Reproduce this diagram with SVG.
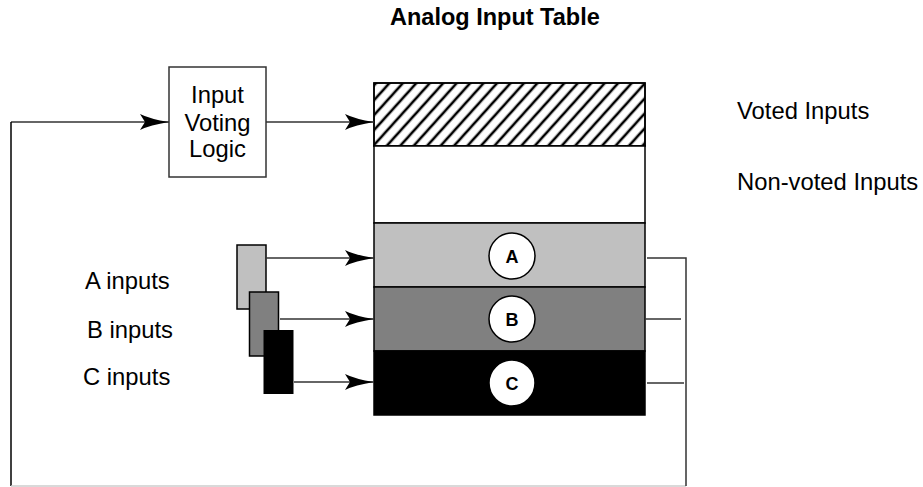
<svg xmlns="http://www.w3.org/2000/svg" width="923" height="487" viewBox="0 0 923 487">
<style>
text{font-family:"Liberation Sans",Arial,sans-serif;fill:#000}
.lbl{font-size:23.8px}
.ttl{font-size:23.5px;font-weight:bold}
.ltr{font-size:18px;font-weight:bold;text-anchor:middle}
.ln{stroke:#333;stroke-width:1.5;fill:none}
.bx{stroke:#000;stroke-width:1.5}
</style>
<defs>
<pattern id="hatch" patternUnits="userSpaceOnUse" width="10" height="10" patternTransform="rotate(42)">
<line x1="5" y1="0" x2="5" y2="10" stroke="#000" stroke-width="2.6"/>
</pattern>
<marker id="arr" markerUnits="userSpaceOnUse" markerWidth="30" markerHeight="16" refX="29" refY="8" orient="auto">
<path d="M0,0 Q10,5 29,8 Q10,11 0,16 L5,8 Z" fill="#000"/>
</marker>
</defs>
<text class="ttl" x="390" y="25">Analog Input Table</text>
<g id="table">
<rect x="374" y="83" width="271" height="63" fill="#fff" class="bx"/>
<rect x="374" y="83" width="271" height="63" fill="url(#hatch)" class="bx"/>
<rect x="374" y="146" width="271" height="77" fill="#fff" class="bx"/>
<rect x="374" y="223" width="271" height="64" fill="#c0c0c0" class="bx"/>
<rect x="374" y="287" width="271" height="64" fill="#808080" class="bx"/>
<rect x="374" y="351" width="271" height="64" fill="#000" class="bx"/>
</g>
<g id="circleA"><circle cx="512" cy="256" r="23" fill="#fff" stroke="#000" stroke-width="1.5"/><text class="ltr" x="512" y="262.5">A</text></g>
<g id="circleB"><circle cx="512" cy="319" r="23" fill="#fff" stroke="#000" stroke-width="1.5"/><text class="ltr" x="512" y="325.5">B</text></g>
<g id="circleC"><circle cx="512" cy="383" r="23" fill="#fff" stroke="#000" stroke-width="1.5"/><text class="ltr" x="512" y="389.5">C</text></g>
<g id="voting">
<rect x="169" y="67" width="97" height="110" fill="#fff" stroke="#333" stroke-width="1.5"/>
<text class="lbl" x="217.5" y="103" text-anchor="middle">Input</text>
<text class="lbl" x="217.5" y="131" text-anchor="middle">Voting</text>
<text class="lbl" x="217.5" y="157" text-anchor="middle">Logic</text>
</g>
<g id="inputA"><rect x="237" y="245" width="29" height="64" fill="#c0c0c0" class="bx"/></g>
<g id="inputB"><rect x="249.5" y="292" width="29" height="64" fill="#808080" class="bx"/></g>
<g id="inputC"><rect x="263.5" y="330" width="30" height="64" fill="#000"/></g>
<g id="labels">
<text class="lbl" x="737" y="119">Voted Inputs</text>
<text class="lbl" x="737" y="190">Non-voted Inputs</text>
<text class="lbl" x="85" y="289">A inputs</text>
<text class="lbl" x="87" y="338">B inputs</text>
<text class="lbl" x="83" y="385">C inputs</text>
</g>
<g id="connectors">
<path class="ln" d="M11,122 L169,122" marker-end="url(#arr)"/>
<path d="M11,122 L11,486" stroke="#000" stroke-width="1.5" fill="none"/>
<path d="M11,486 L686,486" stroke="#ccc" stroke-width="1.5" fill="none"/>
<path class="ln" d="M266,122 L374,122" marker-end="url(#arr)"/>
<path class="ln" d="M266,258 L374,258" marker-end="url(#arr)"/>
<path class="ln" d="M280,319 L374,319" marker-end="url(#arr)"/>
<path class="ln" d="M294,382 L374,382" marker-end="url(#arr)"/>
<path class="ln" d="M647,258 L686,258 L686,486"/>
<path class="ln" d="M645,319 L681,319"/>
<path class="ln" d="M647,383 L684,383"/>
</g>
</svg>
